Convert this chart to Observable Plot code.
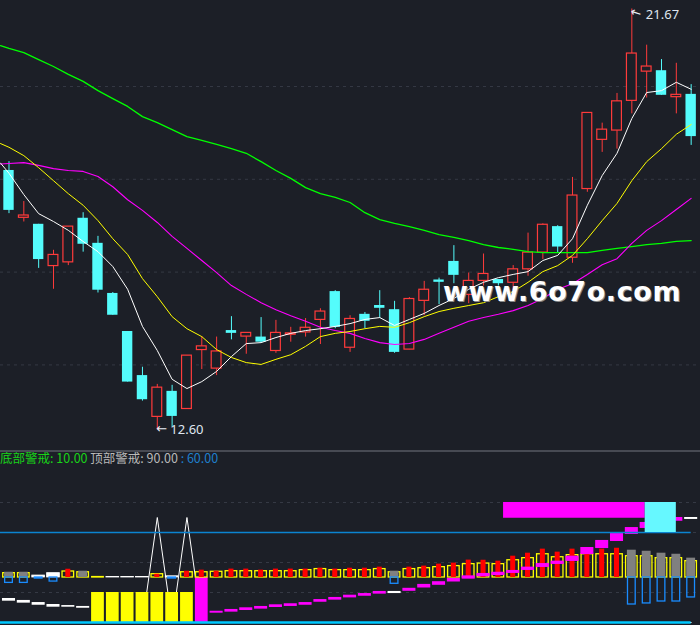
<!DOCTYPE html>
<html><head><meta charset="utf-8">
<script src="https://cdn.jsdelivr.net/npm/d3@7"></script>
<script src="https://cdn.jsdelivr.net/npm/@observablehq/plot@0.6"></script>
<style>
html,body{margin:0;padding:0;background:#1c1f27;overflow:hidden;}
#wrap{position:relative;width:700px;height:625px;background:#1c1f27;overflow:hidden;}
#main{position:absolute;left:0;top:0;}
#sub{position:absolute;left:0;top:452px;}
#sep{position:absolute;left:0;top:450px;width:700px;height:1.5px;background:#474a53;}
#hdr{position:absolute;left:0px;top:452px;font-size:12.5px;line-height:12.5px;font-family:"Noto Sans CJK SC","Noto Sans",sans-serif;white-space:nowrap;}
#wm{position:absolute;left:443px;top:278px;font-weight:bold;font-size:27px;line-height:27px;letter-spacing:0.6px;font-family:"DejaVu Sans",sans-serif;color:#ffffff;text-shadow:1px 1px 0 #8a8a8a;white-space:nowrap;}
svg{display:block;}
</style>
</head><body>
<div id="wrap">
  <div id="main"></div>
  <div id="sep"></div>
  <div id="sub"></div>
  <div id="hdr"><span style="color:#19d219">底部警戒: 10.00</span> <span style="color:#b9b9b9">顶部警戒: 90.00</span> <span style="color:#1f7fcc">: 60.00</span></div>
  <div id="wm">www.6o7o.com</div>
</div>
<script>
const N = null;
// ---- candles (price) ----
const open  = [18.19,17.17,17.03,16.13,16.21,17.16,16.62,15.54,14.72,13.77, 12.88,13.43,13.05,14.32,13.92,14.74,14.61,14.60,14.30,14.65, 14.70,14.97,15.58,14.37,15.09,15.28,15.19,14.33,15.38,15.83, 16.23,15.51,15.81,15.84,15.77,16.06,16.42,16.98,16.31,17.79, 18.85,19.05,19.69,20.32,20.34,19.77,19.83];
const high  = [18.38,17.52,17.03,16.47,16.98,17.28,16.77,15.56,14.72,13.95, 13.58,13.56,14.20,14.61,14.60,15.04,14.69,15.02,14.96,14.81, 15.00,15.21,15.60,15.06,15.13,15.60,15.37,15.45,15.80,15.87, 16.57,15.98,16.39,15.84,16.14,16.84,17.04,17.00,18.04,19.43, 19.21,19.85,21.67,20.89,20.58,20.50,20.04];
const low   = [17.26,17.08,16.08,15.63,16.14,16.43,15.55,15.07,13.63,13.22, 12.60,12.66,13.05,13.90,13.77,14.54,14.23,14.47,14.25,14.49, 14.60,14.44,14.78,14.27,14.78,15.00,14.25,14.33,15.06,15.30, 15.75,15.32,15.70,15.70,15.60,15.91,16.27,16.41,16.19,17.72, 18.58,18.65,19.41,19.75,19.81,19.41,18.73];
const close = [17.33,17.22,16.27,16.37,16.98,16.60,15.61,15.07,13.63,13.25, 13.51,12.89,14.20,14.40,14.29,14.68,14.69,14.49,14.69,14.68, 14.80,15.15,14.81,14.99,14.94,15.22,14.27,15.42,15.62,15.78, 15.93,15.81,15.96,15.75,16.06,16.42,17.02,16.54,17.65,19.43, 19.07,19.68,20.71,20.43,19.81,19.82,18.92];
// ---- moving averages (price), plus the value read at the left edge ----
const ma5  = [18.13,17.67,17.26,17.09,16.90,16.66,16.44,16.12,15.63,14.83, 14.31,13.69,13.49,13.64,13.86,14.18,14.46,14.48,14.59,14.68, 14.74,14.78,14.83,14.89,14.98,15.02,14.85,14.98,15.11,15.28, 15.43,15.63,15.78,15.88,15.95,16.01,16.25,16.36,16.72,17.44, 18.08,18.56,19.31,19.87,19.91,20.09,19.94];
const ma10 = [18.69,18.51,18.25,17.97,17.69,17.44,17.11,16.72,16.38,15.86, 15.47,15.04,14.78,14.61,14.33,14.16,14.05,14.01,14.12,14.22, 14.40,14.61,14.68,14.72,14.78,14.83,14.81,14.91,15.04,15.15, 15.22,15.28,15.34,15.47,15.58,15.78,16.01,16.14,16.36,16.72, 17.11,17.48,17.97,18.38,18.66,18.97,19.18];
const ma20 = [18.34,18.36,18.30,18.23,18.19,18.17,18.06,17.84,17.56,17.33, 17.07,16.77,16.51,16.25,15.99,15.71,15.52,15.34,15.19,15.06, 14.94,14.81,14.74,14.68,14.57,14.48,14.44,14.46,14.55,14.68, 14.81,14.94,15.02,15.09,15.17,15.28,15.43,15.63,15.75,15.95, 16.16,16.29,16.62,16.90,17.11,17.35,17.59];
const ma60 = [20.82,20.73,20.58,20.43,20.26,20.11,19.91,19.74,19.57,19.35, 19.22,19.07,18.92,18.84,18.75,18.66,18.56,18.38,18.19,18.02, 17.82,17.69,17.61,17.50,17.28,17.13,17.05,16.98,16.90,16.81, 16.75,16.68,16.59,16.53,16.49,16.44,16.42,16.42,16.42,16.42, 16.47,16.51,16.55,16.59,16.62,16.66,16.68];
const maLead = {ma5: 18.35, ma10: 18.77, ma20: 18.33, ma60: 20.88};
const priceTicks = [14, 16, 18, 20];
const lowLabel = "12.60", highLabel = "21.67";
// ---- lower indicator panel (0..100) ----
const MID = 30;
const yellowBox = [2.9,2.9,N,N,4.0,3.5,0.3,N,N,N, 2.2,N,3.5,3.5,3.8,4.2,4.2,4.2,4.2,4.2, 4.9,5.6,4.9,4.9,4.9,5.6,3.5,5.6,6.2,6.9, 7.6,8.9,9.3,8.9,11.5,12.9,15.5,13.5,14.9,15.5, 15.5,15.5,14.2,14.2,12.9,12.9,10.9];
const whiteBox  = [N,N,1.3,2.9,N,N,N,0.3,0.3,0.3, N,0.8,N,N,N,N,N,N,N,N, N,N,N,N,N,N,N,N,N,N, N,N,N,N,N,N,N,N,N,N, N,N,N,N,N,N,N];
const redBar    = [N,N,N,N,5.5,N,N,N,N,N, 2.2,N,4.2,4.9,4.2,5.6,5.6,4.9,5.6,5.6, 5.6,6.2,5.6,6.2,6.2,6.9,N,6.9,7.6,8.9, 9.6,11.6,11.5,10.9,14.2,16.2,18.9,16.9,18.9,18.9, 18.9,19.5,N,N,N,N,N];
const grayBar   = [3.5,3.5,N,N,N,4.2,N,N,N,N, N,N,N,N,N,N,N,N,N,N, N,N,N,N,N,N,4.2,N,N,N, N,N,N,N,N,N,N,N,N,N, N,N,18.2,17.5,16.2,15.5,12.9];
const blueBox   = [-3.6,-3.6,-0.7,-2.7,N,N,N,N,N,N, N,-0.7,N,N,N,N,N,N,N,N, N,N,N,N,N,N,-4.2,N,N,N, N,N,N,N,N,N,N,N,N,N, N,N,-18.0,-17.3,-16.0,-16.0,-13.3];
const yellowBar = [N,N,N,N,N,N,20,20,20,20, 20,20,20,N,N,N,N,N,N,N, N,N,N,N,N,N,N,N,N,N, N,N,N,N,N,N,N,N,N,N, N,N,N,N,N,N,N];
const magentaBar= [N,N,N,N,N,N,N,N,N,N, N,N,N,30,N,N,N,N,N,N, N,N,N,N,N,N,N,N,N,N, N,N,N,N,N,N,N,N,N,N, N,N,N,N,N,N,N];
const dashLo = [14.2,12.9,11.5,10.2,10.2,9.5,N,N,N,N, N,N,N,N,6.2,6.9,8.0,8.9,10.0,10.7, 11.5,13.5,14.9,16.4,17.5,18.9,19.3,20.8,23.0,24.8, 27.0,28.9,30.5,31.3,32.7,34.7,36.7,38.7,40.7,45.3, 49.3,54.0,58.7,62.7,N,67.5,68.7];
const dashHi = [16.0,14.7,13.3,12.0,11.3,10.7,N,N,N,N, N,N,N,N,7.5,8.7,9.8,10.7,11.8,12.5, 13.3,15.3,16.7,18.2,19.3,20.7,20.7,22.8,25.4,27.2, 29.4,31.1,32.7,33.5,34.7,36.9,39.3,40.9,44.2,50.0, 54.7,59.3,63.3,66.7,N,70.0,70.0];
const dashTone = ["w","w","w","w","w","w","m","m","m","m", "m","m","m","m","m","m","m","m","m","m", "m","m","m","m","m","m","w","m","m","m", "m","m","m","m","m","m","m","m","m","m", "m","m","m","m","m","m","w"];
const spike = [0,0,0,0,0,0,0,0,0,0, 70,0,70,0,0,0,0,0,0,0, 0,0,0,0,0,0,0,0,0,0, 0,0,0,0,0,0,0,0,0,0, 0,0,0,0,0,0,0];
const zoneFrom = [33.35, 42.9], zoneTo = [42.9, 45.0], zoneLo = [69.5, 60], zoneHi = [80, 80], zoneTone = ["m", "c"];
const subTicks = [20, 40, 60, 80];
const warnLine = 60;

// ---- colours ----
const BG = "#1c1f27", GRID = "#353944", RED = "#ff3b3b", CYAN = "#54fcfc";
const X0 = -0.573, X1 = 46.63, LAST = open.length - 1;

const idx = d3.range(open.length);
const candles = idx.map(i => ({i, o: open[i], h: high[i], l: low[i], c: close[i], up: close[i] >= open[i]}));
const ups = candles.filter(d => d.up), downs = candles.filter(d => !d.up);
const maSeries = (arr, lead) => [{x: X0, y: lead}, ...arr.map((y, i) => ({x: i, y}))];
const iLow = d3.minIndex(low), iHigh = d3.maxIndex(high);

const main = Plot.plot({
  width: 700, height: 451, margin: 0,
  x: {domain: [X0, X1], axis: null},
  y: {domain: [12.134, 21.853], axis: null},
  style: {background: "transparent", overflow: "visible"},
  marks: [
    Plot.ruleY(priceTicks, {stroke: GRID, strokeDasharray: "3,4", strokeWidth: 1}),
    Plot.ruleX(downs, {x: "i", y1: "l", y2: "h", stroke: CYAN, strokeWidth: 1}),
    Plot.rect(downs, {x1: d => d.i - 0.35, x2: d => d.i + 0.35, y1: "o", y2: "c", fill: CYAN}),
    Plot.ruleX(ups, {x: "i", y1: "l", y2: "h", stroke: RED, strokeWidth: 1}),
    Plot.rect(ups, {x1: d => d.i - 0.33, x2: d => d.i + 0.33, y1: "o", y2: "c", fill: BG, stroke: RED, strokeWidth: 1.2}),
    Plot.line(maSeries(ma60, maLead.ma60), {x: "x", y: "y", stroke: "#00ff00", strokeWidth: 1.3}),
    Plot.line(maSeries(ma20, maLead.ma20), {x: "x", y: "y", stroke: "#ff00ff", strokeWidth: 1.1}),
    Plot.line(maSeries(ma10, maLead.ma10), {x: "x", y: "y", stroke: "#ffff00", strokeWidth: 1}),
    Plot.line(maSeries(ma5, maLead.ma5), {x: "x", y: "y", stroke: "#ffffff", strokeWidth: 1}),
    Plot.text([{x: iLow, y: low[iLow]}], {x: "x", y: "y", text: () => "←", textAnchor: "start", dx: -1, dy: -1, fill: "#e6ecf5", fontSize: 13, fontFamily: "DejaVu Sans"}),
    Plot.text([{x: iLow, y: low[iLow]}], {x: "x", y: "y", text: () => lowLabel, textAnchor: "start", dx: 13, dy: 0, fill: "#dfe6f0", fontSize: 13, fontFamily: "Noto Sans"}),
    Plot.text([{x: iHigh, y: high[iHigh]}], {x: "x", y: "y", text: () => "←", textAnchor: "start", dx: -1, dy: 2, rotate: 18, fill: "#e6ecf5", fontSize: 13, fontFamily: "DejaVu Sans"}),
    Plot.text([{x: iHigh, y: high[iHigh]}], {x: "x", y: "y", text: () => highLabel, textAnchor: "start", dx: 14, dy: 6, fill: "#dfe6f0", fontSize: 13, fontFamily: "Noto Sans"})
  ]
});
document.getElementById("main").appendChild(main);

const rows = idx.map(i => ({i, yb: yellowBox[i], wb: whiteBox[i], rb: redBar[i], gb: grayBar[i], bb: blueBox[i],
  ybar: yellowBar[i], mbar: magentaBar[i], lo: dashLo[i], hi: dashHi[i], tone: dashTone[i], sp: spike[i]}));
const has = k => rows.filter(d => d[k] != null);
const zones = zoneFrom.map((f, k) => ({f, t: zoneTo[k], lo: zoneLo[k], hi: zoneHi[k], tone: zoneTone[k]}));

const sub = Plot.plot({
  width: 700, height: 173, marginTop: 20, marginBottom: 3, marginLeft: 0, marginRight: 0,
  x: {domain: [X0, X1], axis: null},
  y: {domain: [0, 100], axis: null},
  style: {background: "transparent", overflow: "visible"},
  marks: [
    Plot.ruleY(subTicks, {stroke: GRID, strokeDasharray: "3,4", strokeWidth: 1}),
    Plot.line(rows, {x: "i", y: "sp", stroke: "#ffffff", strokeWidth: 1}),
    Plot.rect(has("ybar"), {x1: d => d.i - 0.43, x2: d => d.i + 0.43, y1: 0, y2: "ybar", fill: "#ffff00"}),
    Plot.rect(has("mbar"), {x1: d => d.i - 0.43, x2: d => d.i + 0.43, y1: 0, y2: "mbar", fill: "#ff00ff"}),
    Plot.rect(has("yb"), {x1: d => d.i - 0.39, x2: d => d.i + 0.39, y1: MID, y2: d => MID + d.yb, fill: "none", stroke: "#ffff00", strokeWidth: 1.3}),
    Plot.rect(has("wb"), {x1: d => d.i - 0.43, x2: d => d.i + 0.43, y1: MID, y2: d => MID + d.wb, fill: "#ffffff", stroke: "#ffffff", strokeWidth: 0.8}),
    Plot.rect(has("gb"), {x1: d => d.i - 0.3, x2: d => d.i + 0.3, y1: MID, y2: d => MID + d.gb, fill: "#808080"}),
    Plot.rect(has("rb"), {x1: d => d.i - 0.17, x2: d => d.i + 0.17, y1: MID, y2: d => MID + d.rb, fill: "#ff0000"}),
    Plot.rect(has("bb"), {x1: d => d.i - 0.26, x2: d => d.i + 0.26, y1: MID, y2: d => MID + d.bb, fill: "none", stroke: "#1a8cff", strokeWidth: 1.3}),
    Plot.rect(has("lo"), {x1: d => d.i - 0.44, x2: d => d.i + 0.44, y1: "lo", y2: "hi", fill: d => d.tone === "w" ? "#ffffff" : "#ff00ff"}),
    Plot.ruleY([warnLine], {x1: X0, x2: LAST, stroke: "#0b84d1", strokeWidth: 1.4}),
    Plot.ruleY([0], {x1: X0, x2: LAST, stroke: "#00c8ff", strokeWidth: 2.6}),
    Plot.rect(zones, {x1: "f", x2: "t", y1: "lo", y2: "hi", fill: d => d.tone === "m" ? "#ff00ff" : "#66f8ff"})
  ]
});
document.getElementById("sub").appendChild(sub);
</script>
</body></html>
